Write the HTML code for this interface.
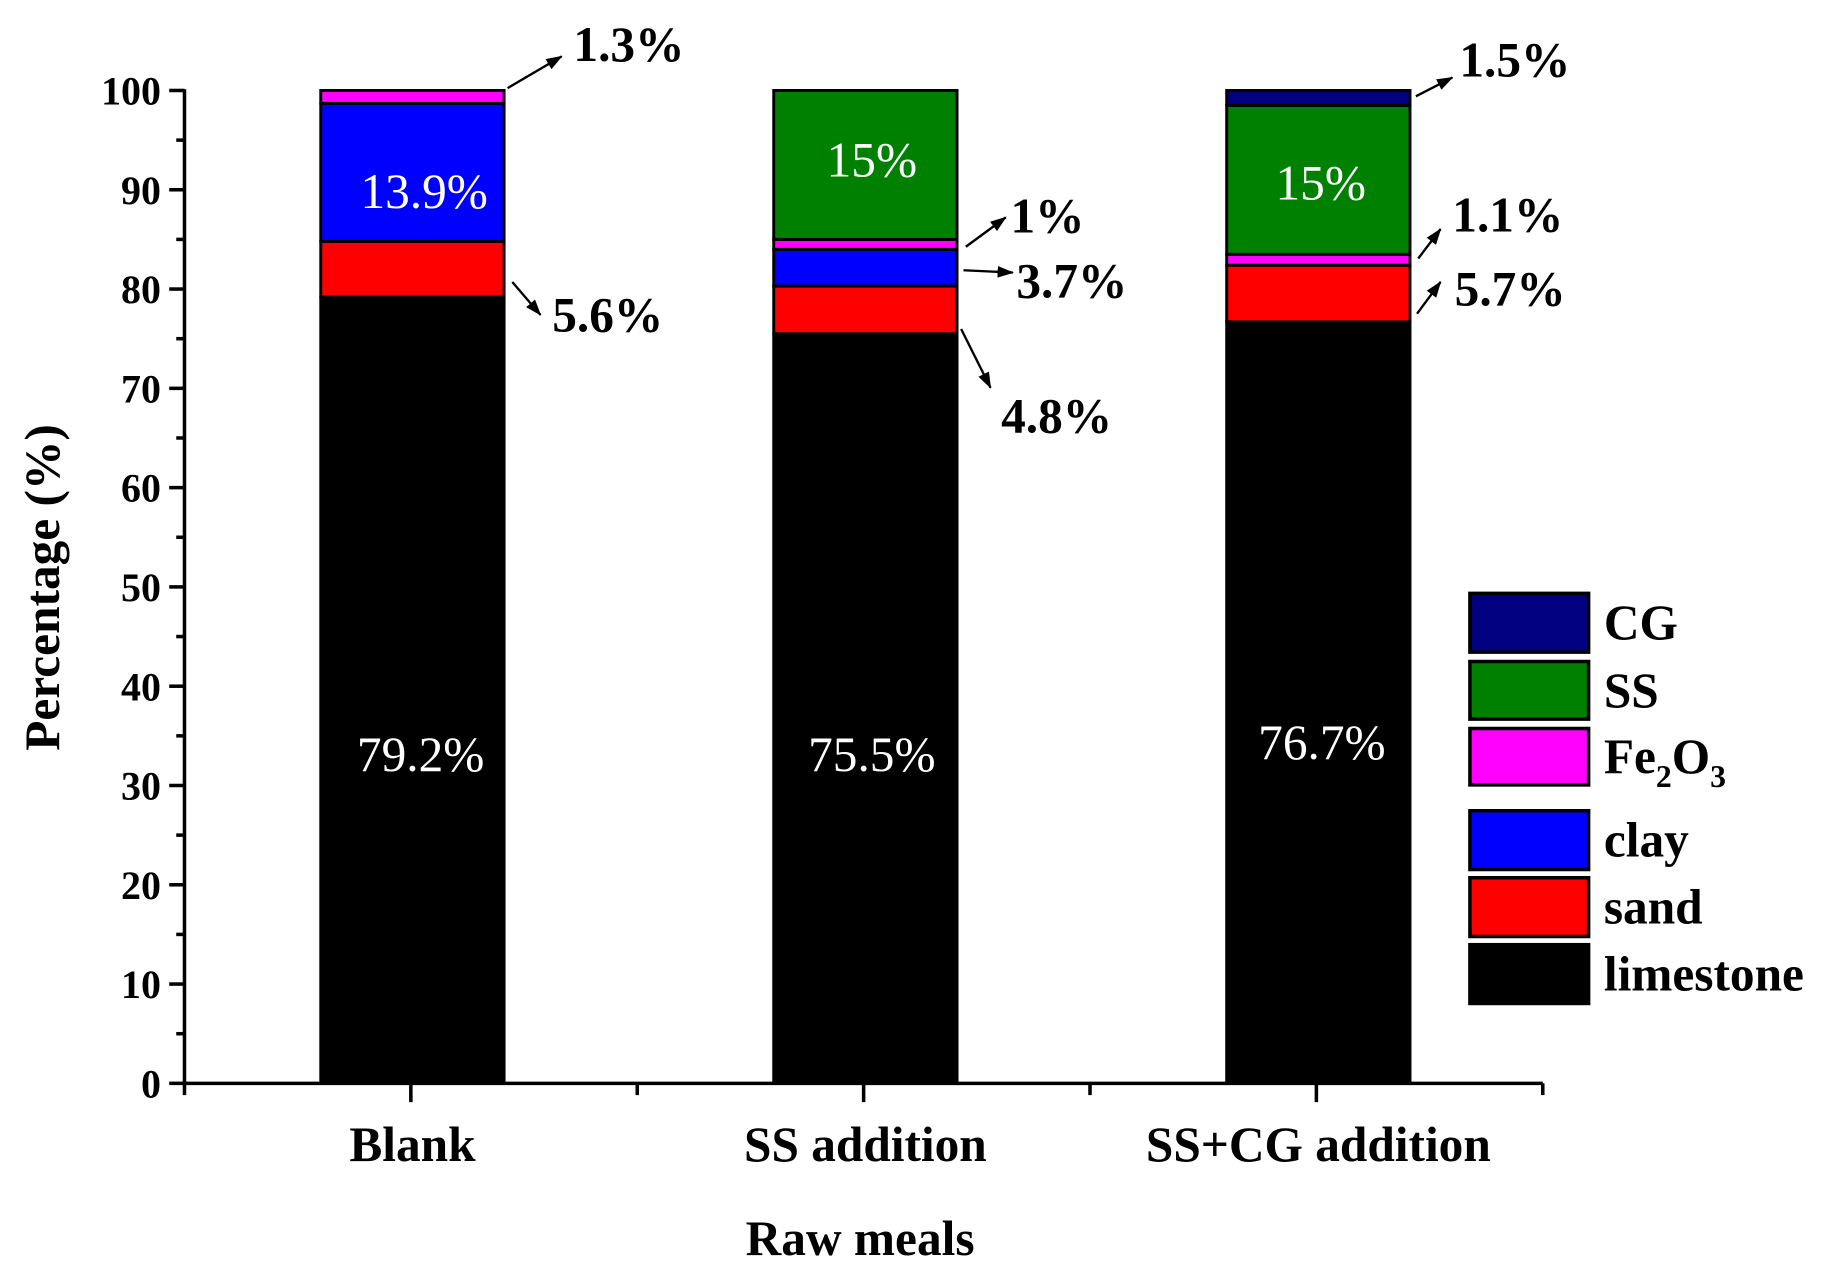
<!DOCTYPE html>
<html><head><meta charset="utf-8"><style>
html,body{margin:0;padding:0;background:#fff}
svg{display:block}
text{font-family:"Liberation Serif","Times New Roman",serif}
</style></head><body>
<svg id="chart" width="1833" height="1271" viewBox="0 0 1560 1081.7" xmlns="http://www.w3.org/2000/svg"></svg>
<script>
const categories = ["Blank", "SS addition", "SS+CG addition"];
const seriesNames = ["limestone", "sand", "clay", "Fe2O3", "SS", "CG"];
const limestone = [79.2, 75.5, 76.7];
const sand = [5.6, 4.8, 5.7];
const clay = [13.9, 3.7, 0];
const fe2o3 = [1.3, 1.0, 1.1];
const ss = [0, 15, 15];
const cg = [0, 0, 1.5];
const yTicks = [0, 10, 20, 30, 40, 50, 60, 70, 80, 90, 100];

const NS = "http://www.w3.org/2000/svg";
const svg = document.getElementById("chart");
const colors = ["#000000", "#ff0000", "#0000ff", "#ff00ff", "#008000", "#000080"];
const series = [limestone, sand, clay, fe2o3, ss, cg];
const X0 = 157, X1 = 1313, Y0 = 922, Y100 = 77;
const y = v => Y0 - (Y0 - Y100) * v / 100;
const xC = i => 351 + i * 385.5;
const barW = 156;

function el(tag, attrs, parent) {
  const e = document.createElementNS(NS, tag);
  for (const k in attrs) e.setAttribute(k, attrs[k]);
  (parent || svg).appendChild(e);
  return e;
}
function txt(s, x, yy, size, opts) {
  const t = el("text", Object.assign({x: x, y: yy, "font-size": size}, opts || {}));
  t.textContent = s;
  return t;
}

// bars
categories.forEach((c, i) => {
  const g = el("g", {});
  
  
  let cum = 0;
  series.forEach((s, j) => {
    const v = s[i];
    if (v <= 0) return;
    const r = el("rect", {x: xC(i) - barW / 2, y: y(cum + v), width: barW, height: y(cum) - y(cum + v),
      fill: colors[j], stroke: "#000", "stroke-width": 2.5}, g);
    
    
    cum += v;
  });
});

// axes
const ax = el("g", {stroke: "#000", "stroke-width": 3, fill: "none"});


el("line", {x1: X0, y1: Y100 - 1, x2: X0, y2: Y0 + 1.5}, ax);
el("line", {x1: X0 - 1.5, y1: Y0, x2: X1, y2: Y0}, ax);
yTicks.forEach(v => {
  el("line", {x1: X0 - 13, y1: y(v), x2: X0, y2: y(v)}, ax);
  if (v < 100) el("line", {x1: X0 - 7, y1: y(v + 5), x2: X0, y2: y(v + 5)}, ax);
  const t = txt(String(v), X0 - 20, y(v) + 12, 34, {"text-anchor": "end", "font-weight": "bold"});
  
  
});
for (let k = 0; k <= 6; k++) {
  const xx = X0 + k * (X1 - X0) / 6;
  el("line", {x1: xx, y1: Y0, x2: xx, y2: Y0 + (k % 2 ? 16 : 10)}, ax);
}
categories.forEach((c, i) => {
  const t = txt(c, xC(i), 988, 42, {"text-anchor": "middle", "font-weight": "bold"});
  
  
});
const xt = txt("Raw meals", 732, 1068, 42, {"text-anchor": "middle", "font-weight": "bold"});


const yt = txt("Percentage (%)", 0, 0, 42, {"text-anchor": "middle", "font-weight": "bold", transform: "translate(50,500) rotate(-90)"});



// inside labels
[["13.9%", 361, 177], ["79.2%", 358, 656], ["15%", 742, 150], ["75.5%", 742, 656], ["15%", 1124, 170], ["76.7%", 1125, 646]].forEach(a => {
  const t = txt(a[0], a[1], a[2], 42, {"text-anchor": "middle", fill: "#fff"});
  
  
});

// arrows + labels
el("defs", {}).innerHTML = '<marker id="ah" markerWidth="14" markerHeight="10" refX="13" refY="5" orient="auto" markerUnits="userSpaceOnUse"><path d="M0,0 L14,5 L0,10 z" fill="#000"/></marker>';
const ann = [
  [432, 75, 478, 48, "1.3%", 488, 52],
  [436, 240, 460, 268, "5.6%", 470, 282],
  [822, 210, 856, 185, "1%", 860, 198],
  [820, 230, 862, 232, "3.7%", 865, 253],
  [818, 280, 843, 330, "4.8%", 852, 368],
  [1205, 82, 1236, 66, "1.5%", 1242, 65],
  [1207, 220, 1226, 195, "1.1%", 1236, 197],
  [1206, 267, 1226, 240, "5.7%", 1238, 260]
];
ann.forEach(a => {
  const l = el("line", {x1: a[0], y1: a[1], x2: a[2], y2: a[3], stroke: "#000", "stroke-width": 2, "marker-end": "url(#ah)"});
  
  
  const t = txt(a[4], a[5], a[6], 42, {"font-weight": "bold"});
  
  
});

// legend
const leg = [["CG", 505, 555, 5], ["SS", 563, 612, 4], ["Fe2O3", 620, 668, 3], ["clay", 690, 740, 2], ["sand", 747, 797, 1], ["limestone", 804, 854, 0]];
const lg = el("g", {});


leg.forEach(L => {
  const r = el("rect", {x: 1251, y: L[1], width: 101, height: L[2] - L[1], fill: colors[L[3]], stroke: "#000", "stroke-width": 3}, lg);
  
  
  const t = el("text", {x: 1365, y: (L[1] + L[2]) / 2 + 14, "font-size": 42, "font-weight": "bold"}, lg);
  if (L[0] === "Fe2O3") {
    t.innerHTML = 'Fe<tspan font-size="27" dy="12">2</tspan><tspan dy="-12">O</tspan><tspan font-size="27" dy="12">3</tspan>';
  } else t.textContent = L[0];
  
  
});
</script>
</body></html>
